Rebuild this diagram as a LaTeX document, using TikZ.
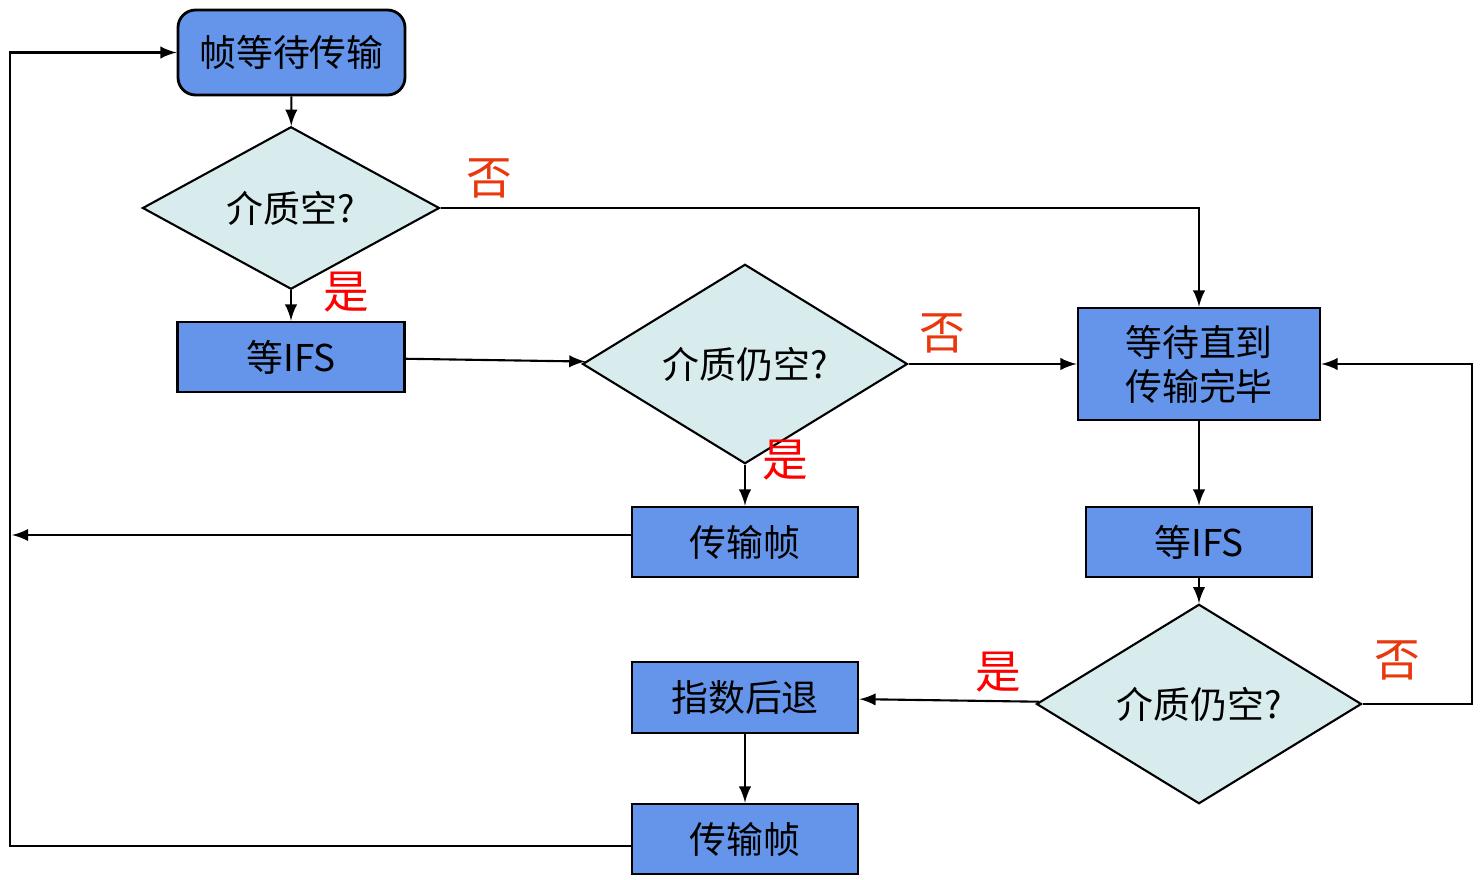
\documentclass[tikz,border=0pt]{standalone}
\usepackage{fontspec}
\setmainfont{Noto Sans CJK SC}
\usetikzlibrary{shapes.geometric,positioning}
\definecolor{boxblue}{HTML}{6495EA}
\definecolor{diafill}{HTML}{D8ECEE}
\definecolor{nored}{HTML}{E8380D}
\tikzset{
  box/.style={draw,line width=0.8pt,fill=boxblue,inner sep=0pt,font=\fontsize{10.5}{12.5}\selectfont,align=center},
  test/.style={diamond,draw,line width=0.6pt,fill=diafill,inner sep=0pt,font=\fontsize{10.5}{12}\selectfont},
  flow/.style={line width=0.6pt,-latex},
  line/.style={line width=0.6pt},
  yes/.style={text=red,font=\fontsize{13}{14}\selectfont},
  no/.style={text=nored,font=\fontsize{13}{14}\selectfont}
}
\begin{document}
\begin{tikzpicture}
  \useasboundingbox (0,0) rectangle (14.8,-8.8);
  % nodes
  \node[box,rounded corners=5pt,minimum width=2.27cm,minimum height=0.85cm] (wait) at (2.915,-0.525) {帧等待传输};
  \node[test,minimum width=2.97cm,minimum height=0.84cm] (idle) at (2.91,-2.08) {介质空?};
  \node[box,minimum width=2.27cm,minimum height=0.70cm] (ifsa) at (2.91,-3.57) {等IFS};
  \node[test,minimum width=3.25cm,minimum height=1.12cm] (idlea) at (7.45,-3.64) {介质仍空?};
  \node[box,minimum width=2.42cm,minimum height=1.12cm] (busy) at (11.99,-3.64) {等待直到\\传输完毕};
  \node[box,minimum width=2.26cm,minimum height=0.70cm] (senda) at (7.45,-5.42) {传输帧};
  \node[box,minimum width=2.26cm,minimum height=0.70cm] (ifsb) at (11.99,-5.42) {等IFS};
  \node[test,minimum width=3.25cm,minimum height=1.12cm] (idleb) at (11.99,-7.04) {介质仍空?};
  \node[box,minimum width=2.26cm,minimum height=0.71cm] (back) at (7.45,-6.975) {指数后退};
  \node[box,minimum width=2.26cm,minimum height=0.70cm] (sendb) at (7.45,-8.39) {传输帧};
  % corner points
  \coordinate (lt) at (0.10,-0.525);
  \coordinate (lb) at (0.10,-8.46);
  \coordinate (lm) at (0.12,-5.35);
  \coordinate (rt) at (14.72,-3.64);
  \coordinate (rb) at (14.72,-7.04);
  % connectors
  \draw[flow] (wait) -- (idle);
  \draw[flow] (idle) -- (ifsa);
  \draw[flow] (idle.east) -| (busy.north);
  \draw[flow] (ifsa) -- (idlea);
  \draw[flow] (idlea) -- (busy);
  \draw[flow] (idlea) -- (senda);
  \draw[flow] (senda.west |- lm) -- (lm);
  \draw[flow] (busy) -- (ifsb);
  \draw[flow] (ifsb) -- (idleb);
  \draw[flow] (idleb) -- (back);
  \draw[flow] (back) -- (sendb);
  \draw[flow] (sendb.west |- lb) -- (lb) -- (lt) -- (wait.west);
  \draw[flow] (idleb.east) -- (rb) -- (rt) -- (busy.east);
  % labels
  \node[no] (n1) at (4.89,-1.78) {否};
  \node[yes] (y1) at (3.46,-2.92) {是};
  \node[no] (n2) at (9.42,-3.33) {否};
  \node[yes] (y2) at (7.85,-4.60) {是};
  \node[yes] (y3) at (9.98,-6.72) {是};
  \node[no] (n3) at (13.97,-6.60) {否};
\end{tikzpicture}
\end{document}
